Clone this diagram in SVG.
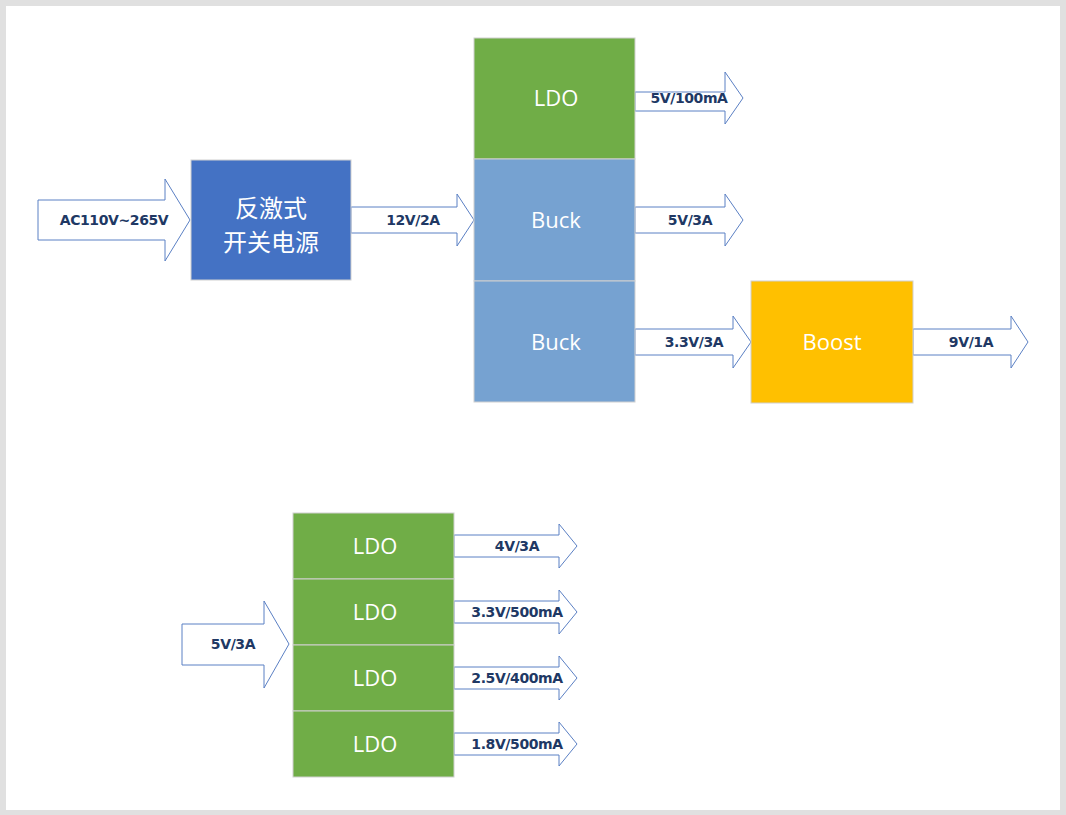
<svg xmlns="http://www.w3.org/2000/svg" width="1066" height="815" viewBox="0 0 1066 815">
<style>
.box{stroke:#d0d0d0;stroke-width:1}
.ldo{fill:#70AD47}
.buck{fill:#76A2D1}
.fly{fill:#4472C4}
.boost{fill:#FFC000}
.bt{font-family:"Open Sans","Noto Sans",sans-serif;font-size:22px;fill:#ffffff;text-anchor:middle}
.cn{font-family:"Noto Sans CJK SC",sans-serif;font-size:24px;fill:#ffffff;text-anchor:middle}
.arr{fill:#ffffff;stroke:#5B80C4;stroke-width:1}
.lb{font-family:"DejaVu Sans",sans-serif;font-weight:bold;font-size:14px;letter-spacing:-0.4px;fill:#203864;text-anchor:middle;stroke:#ffffff;stroke-width:0.5;paint-order:stroke}
</style>
<rect x="0" y="0" width="1066" height="815" fill="#e0e0e0"/>
<rect x="6" y="6" width="1054" height="804" fill="#ffffff"/>
<g id="connectors">
<polygon class="arr" points="38,200 165,200 165,179 190,220 165,261 165,240 38,240"/>
<polygon class="arr" points="351,207 457,207 457,194 474,220 457,246 457,233 351,233"/>
<polygon class="arr" points="635,92 725,92 725,72 743,98 725,124 725,111 635,111"/>
<polygon class="arr" points="635,207 725,207 725,194 743,220 725,246 725,233 635,233"/>
<polygon class="arr" points="635,329 733,329 733,316 751,342 733,368 733,355 635,355"/>
<polygon class="arr" points="913,329 1011,329 1011,316 1028,342 1011,368 1011,355 913,355"/>
<polygon class="arr" points="182,624 264,624 264,601 289,644 264,688 264,665 182,665"/>
<polygon class="arr" points="454,535 559,535 559,524 577,546 559,568 559,557 454,557"/>
<polygon class="arr" points="454,601 559,601 559,590 577,612 559,634 559,623 454,623"/>
<polygon class="arr" points="454,667 559,667 559,656 577,678 559,700 559,689 454,689"/>
<polygon class="arr" points="454,733 559,733 559,722 577,744 559,766 559,755 454,755"/>
<text class="lb" x="114" y="225">AC110V~265V</text>
<text class="lb" x="413" y="225">12V/2A</text>
<text class="lb" x="689" y="103">5V/100mA</text>
<text class="lb" x="690" y="225">5V/3A</text>
<text class="lb" x="694" y="347">3.3V/3A</text>
<text class="lb" x="971" y="347">9V/1A</text>
<text class="lb" x="233" y="649">5V/3A</text>
<text class="lb" x="517" y="551">4V/3A</text>
<text class="lb" x="517" y="617">3.3V/500mA</text>
<text class="lb" x="517" y="683">2.5V/400mA</text>
<text class="lb" x="517" y="749">1.8V/500mA</text>
</g>
<g id="flyback">
<rect class="box fly" x="191" y="160" width="160" height="120"/>
<text class="cn"><tspan x="271" y="217">反激式</tspan><tspan x="271" y="251">开关电源</tspan></text>
</g>
<g id="ldo-top">
<rect class="box ldo" x="474" y="38" width="161" height="121"/>
<text class="bt" x="556" y="106">LDO</text>
</g>
<g id="buck1">
<rect class="box buck" x="474" y="159" width="161" height="122"/>
<text class="bt" x="556" y="228">Buck</text>
</g>
<g id="buck2">
<rect class="box buck" x="474" y="281" width="161" height="121"/>
<text class="bt" x="556" y="350">Buck</text>
</g>
<g id="boost">
<rect class="box boost" x="751" y="281" width="162" height="122"/>
<text class="bt" x="832" y="350">Boost</text>
</g>
<g id="ldo1">
<rect class="box ldo" x="293" y="513" width="161" height="66"/>
<text class="bt" x="375" y="554">LDO</text>
</g>
<g id="ldo2">
<rect class="box ldo" x="293" y="579" width="161" height="66"/>
<text class="bt" x="375" y="620">LDO</text>
</g>
<g id="ldo3">
<rect class="box ldo" x="293" y="645" width="161" height="66"/>
<text class="bt" x="375" y="686">LDO</text>
</g>
<g id="ldo4">
<rect class="box ldo" x="293" y="711" width="161" height="66"/>
<text class="bt" x="375" y="752">LDO</text>
</g>
</svg>
